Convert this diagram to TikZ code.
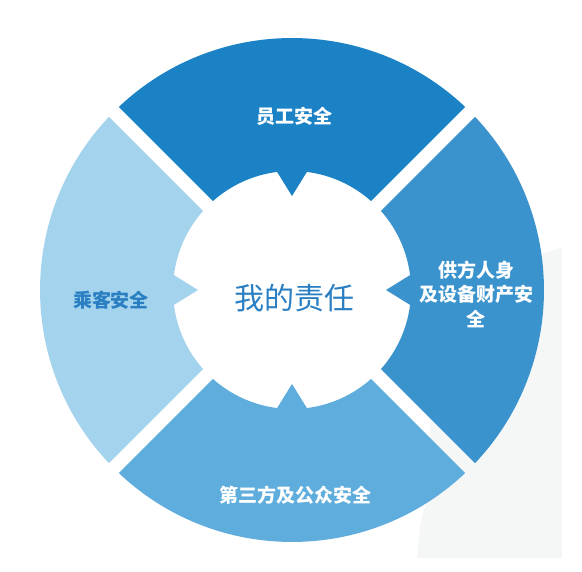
\documentclass[tikz,border=0pt]{standalone}
\usepackage{fontspec}
\newfontfamily\cjk{Noto Sans CJK SC}
\definecolor{segtop}{RGB}{27,130,198}
\definecolor{segright}{RGB}{58,147,205}
\definecolor{segbottom}{RGB}{94,173,220}
\definecolor{segleft}{RGB}{163,211,237}
\definecolor{txtblue}{RGB}{42,126,194}
\definecolor{bggray}{RGB}{245,247,247}
\tikzset{
  seglabel/.style={font=\cjk\bfseries\fontsize{19}{24.5}\selectfont, text=white, align=center, inner sep=0pt},
  centerlabel/.style={font=\cjk\fontsize{30}{34}\selectfont, text=txtblue, inner sep=0pt}
}
\begin{document}
\begin{tikzpicture}[x=1pt,y=1pt]
\useasboundingbox (0,0) rectangle (582,572);
% faint background patch
\fill[bggray] (430,325) -- (547,319) -- (562,325) -- (562,14) -- (417,14) .. controls (420,50) .. (430,80) -- cycle;
\begin{scope}[shift={(292,282)}]
  \def\R{252}
  \def\r{119}
  \pgfmathsetmacro\ao{asin(7/252)}
  \pgfmathsetmacro\ai{asin(7/119)}
  \def\na{7.2}
  \def\tip{94}
  \foreach \c/\col in {90/segtop,180/segleft,270/segbottom,0/segright}{
    \fill[\col] ({\c-45+\ao}:\R) arc[start angle={\c-45+\ao}, end angle={\c+45-\ao}, radius=\R]
      -- ({\c+45-\ai}:\r) arc[start angle={\c+45-\ai}, end angle={\c+\na}, radius=\r]
      -- (\c:\tip) -- ({\c-\na}:\r) arc[start angle={\c-\na}, end angle={\c-45+\ai}, radius=\r] -- cycle;
  }
\end{scope}
\node[seglabel] (top) at (294,456) {员工安全};
\node[seglabel] (right) at (476,278) {供方人身\\及设备财产安\\全};
\node[seglabel] (bottom) at (295,77) {第三方及公众安全};
\node[seglabel, text=txtblue] (left) at (111,272) {乘客安全};
\node[centerlabel] (center) at (294,274) {我的责任};
\end{tikzpicture}
\end{document}
